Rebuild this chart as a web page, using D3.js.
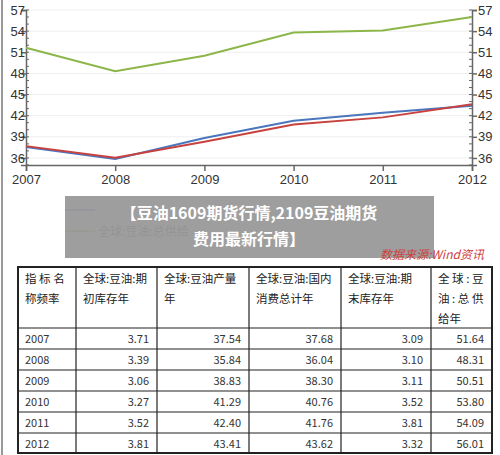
<!DOCTYPE html><html><head><meta charset="utf-8"><script src="https://cdn.jsdelivr.net/npm/d3@7"></script>
<style>body{margin:0;background:#fff;font-family:"Noto Sans CJK SC","Noto Sans",sans-serif}</style></head><body><svg id="c" width="500" height="455"></svg><script>
const years=["2007","2008","2009","2010","2011","2012"];
const openStock=[3.71,3.39,3.06,3.27,3.52,3.81];
const production=[37.54,35.84,38.83,41.29,42.40,43.41];
const consumption=[37.68,36.04,38.30,40.76,41.76,43.62];
const endStock=[3.09,3.10,3.11,3.52,3.81,3.32];
const supply=[51.64,48.31,50.51,53.80,54.09,56.01];
const yTicks=[36,39,42,45,48,51,54,57];
const headers=[["指 标 名","称频率"],["全球:豆油:期","初库存年"],["全球:豆油产量","年"],["全球:豆油:国内","消费总计年"],["全球:豆油:期","末库存年"],["全 球 : 豆","油 : 总 供","给年"]];
const svg=d3.select("#c");
const x=d3.scalePoint().domain(years).range([26,472]);
const y=d3.scaleLinear().domain([35,57]).range([165,10]);
svg.append("line").attr("x1",2).attr("x2",2).attr("y1",0).attr("y2",455).attr("stroke","#999").attr("stroke-width",2);
svg.append("g").selectAll("line").data(yTicks).join("line").attr("x1",26).attr("x2",472).attr("y1",d=>y(d)).attr("y2",d=>y(d)).attr("stroke","#eee");
const ax=svg.append("g").attr("transform","translate(0,165)").call(d3.axisBottom(x).tickSize(6).tickPadding(4));
const al=svg.append("g").attr("transform","translate(26,0)").call(d3.axisLeft(y).tickValues(yTicks).tickSize(5).tickPadding(1));
const ar=svg.append("g").attr("transform","translate(472,0)").call(d3.axisRight(y).tickValues(yTicks).tickSize(5).tickPadding(1));
[ax,al,ar].forEach(g=>{g.selectAll("path,line").attr("stroke","#666").attr("stroke-width",1.5);g.selectAll("text").attr("font-size",13).attr("fill","#333").attr("font-family","Liberation Sans,sans-serif");});
al.selectAll("text").attr("x",-1).attr("dx",0);
const minor=d3.range(35,57.01,1);
svg.append("g").selectAll("line").data(minor).join("line").attr("x1",26).attr("x2",29).attr("y1",d=>y(d)).attr("y2",d=>y(d)).attr("stroke","#666");
svg.append("g").selectAll("line").data(minor).join("line").attr("x1",469).attr("x2",472).attr("y1",d=>y(d)).attr("y2",d=>y(d)).attr("stroke","#666");
const line=d3.line().x((d,i)=>x(years[i])).y(d=>y(d));
[[supply,"#8db64a"],[production,"#4a76be"],[consumption,"#c7423f"]].forEach(([d,c])=>svg.append("path").datum(d).attr("d",line).attr("fill","none").attr("stroke",c).attr("stroke-width",2));
svg.append("line").attr("x1",65).attr("x2",95).attr("y1",210).attr("y2",210).attr("stroke","#4a76be").attr("stroke-width",2);
svg.append("line").attr("x1",65).attr("x2",95).attr("y1",231).attr("y2",231).attr("stroke","#8db64a").attr("stroke-width",2);
svg.append("text").attr("x",98).attr("y",236).attr("font-size",12).attr("fill","#333").text("全球:豆油:总供给");
svg.append("rect").attr("x",65).attr("y",196).attr("width",369).attr("height",62).attr("fill","#999").attr("opacity",0.95);
svg.append("text").attr("x",249).attr("y",219).attr("text-anchor","middle").attr("fill","#fff").attr("font-weight","bold").attr("font-size",16).text("【豆油1609期货行情,2109豆油期货");
svg.append("text").attr("x",249).attr("y",245).attr("text-anchor","middle").attr("fill","#fff").attr("font-weight","bold").attr("font-size",16).text("费用最新行情】");
svg.append("text").attr("x",380).attr("y",259).attr("fill","#d04040").attr("font-style","italic").attr("font-size",12).text("数据来源:Wind资讯");
// table
const cx=[18,76,157,249,341,431,492], ry=[267,328,349,370,391,412,433,453];
const t=svg.append("g");
t.append("rect").attr("x",18).attr("y",267).attr("width",474).attr("height",186).attr("fill","#fff").attr("stroke","#222").attr("stroke-width",2);
cx.slice(1,-1).forEach(v=>t.append("line").attr("x1",v).attr("x2",v).attr("y1",267).attr("y2",453).attr("stroke","#222").attr("stroke-width",1.2));
ry.slice(1,-1).forEach(v=>t.append("line").attr("x1",18).attr("x2",492).attr("y1",v).attr("y2",v).attr("stroke","#222").attr("stroke-width",1.2));
headers.forEach((h,i)=>h.forEach((s,k)=>t.append("text").attr("x",cx[i]+7).attr("y",283+k*20).attr("font-size",11.5).attr("fill","#222").text(s)));
const cols=[openStock,production,consumption,endStock,supply];
years.forEach((yr,r)=>{const yy=ry[r+1]+15;
 t.append("text").attr("x",cx[0]+7).attr("y",yy).attr("font-size",11).attr("fill","#333").text(yr);
 cols.forEach((c,j)=>t.append("text").attr("x",cx[j+2]-8).attr("y",yy).attr("text-anchor","end").attr("font-size",11).attr("fill","#333").text(c[r].toFixed(2)));});
</script></body></html>
